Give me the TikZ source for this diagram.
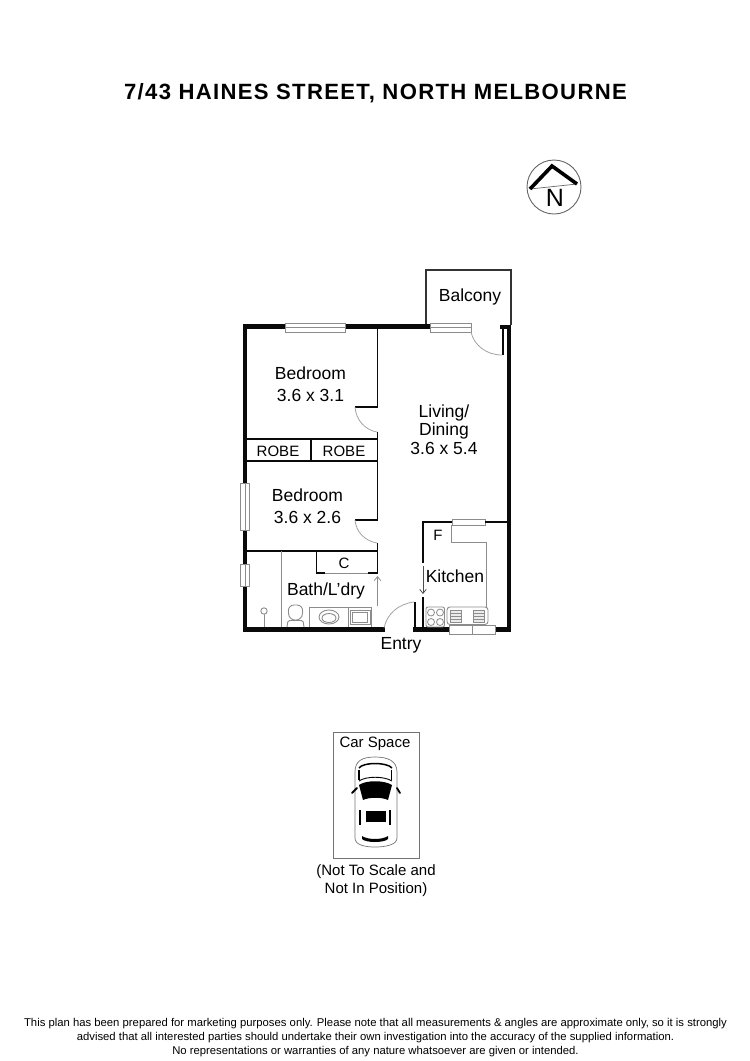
\documentclass[tikz,border=0pt]{standalone}
\usepackage{fontspec}
\setmainfont{Liberation Sans}
\newfontfamily\titlefont[LetterSpace=6.0]{Liberation Sans}
\usetikzlibrary{positioning,arrows.meta}
\definecolor{wallblack}{RGB}{10,10,10}
\definecolor{fixgray}{RGB}{140,140,140}

\tikzset{
    wall/.style={line width=4.5pt, color=wallblack, line cap=rect},
    thinwall/.style={line width=1.7pt, color=wallblack},
    fixture/.style={line width=0.9pt, color=fixgray},
    swing/.style={line width=0.8pt, color=fixgray!80},
    windowpane/.style={draw=fixgray, fill=white, line width=0.9pt},
    doorarrow/.style={-{Straight Barb[length=4pt,width=6.5pt]}, line width=0.8pt},
    roomlabel/.style={align=center, inner sep=0pt, text=black, font=\fontsize{17.5}{22}\selectfont},
    smalllabel/.style={align=center, inner sep=0pt, text=black, font=\fontsize{15}{18}\selectfont},
    footerlabel/.style={align=center, inner sep=0pt, text=black, font=\fontsize{11.3}{14}\selectfont},
}

\begin{document}
\begin{tikzpicture}[x=1pt,y=-1pt]
\useasboundingbox (0,0) rectangle (750,1061);

% title and north point
\node[inner sep=0pt, font=\titlefont\bfseries\fontsize{22.1}{26}\selectfont] (title) at (375.5,93) {7/43 HAINES STREET, NORTH MELBOURNE};
\draw[line width=0.9pt, color=black!60] (554,187) circle (27);
\draw[line width=0.7pt, color=black!60] (530,189) -- (577,184);
\draw[line width=3.6pt, color=black, miter limit=10] (530,189) -- (552,166) -- (577,184);
\node[inner sep=0pt, font=\fontsize{25}{28}\selectfont] (north) at (555,198) {N};

% balcony
\draw[line width=1.3pt, color=black!80] (426,325) -- (426,270) -- (511,270) -- (511,325);

% outer walls
\draw[wall] (285,326.5) -- (245,326.5) -- (245,629.5) -- (383,629.5);
\draw[wall] (345,326.5) -- (428,326.5);
\draw[wall] (502,327) -- (509,327) -- (509,629.5) -- (495,629.5);
\draw[wall] (449,629.5) -- (415,629.5);
\draw[line width=2.4pt, color=wallblack] (503,327) -- (503,355);
\draw[line width=2.4pt, color=wallblack] (415,602) -- (415,629);

% windows
\draw[windowpane] (285,323) rectangle (345,332);
\draw[fixture] (285,327.5) -- (345,327.5);
\draw[windowpane] (430,323) rectangle (471,332);
\draw[fixture] (430,327.5) -- (471,327.5);
\draw[windowpane] (240.5,483) rectangle (249.5,530);
\draw[fixture] (245,483) -- (245,530);
\draw[windowpane] (240.5,564) rectangle (249.5,586);
\draw[fixture] (245,564) -- (245,586);
\draw[windowpane] (449,625) rectangle (495,634);
\draw[fixture] (472,625) -- (472,634);
\draw[windowpane] (452,519.5) rectangle (485,525);

% inner walls
\draw[thinwall] (355,407) -- (377.5,407) -- (377.5,328);
\draw[thinwall] (247,439) -- (377.5,439);
\draw[thinwall] (247,461) -- (377.5,461);
\draw[thinwall] (377.5,432) -- (377.5,461);
\draw[thinwall] (311,439) -- (311,461);
\draw[thinwall] (355,520) -- (377.5,520) -- (377.5,461);
\draw[thinwall] (377.5,543) -- (377.5,573);
\draw[thinwall] (247,551) -- (377.5,551);
\draw[thinwall] (325,573) -- (316.5,573) -- (316.5,551);
\draw[thinwall] (368,573) -- (377.5,573);
\draw[fixture] (325,573) -- (368,573);
\draw[fixture] (281,551) -- (281,627);
\draw[thinwall] (423,563) -- (423,522) -- (452,522);
\draw[thinwall] (485,522) -- (507,522);
\draw[thinwall] (423,597) -- (423,628);

% door swings
\draw[swing] (471,332) .. controls (474,345) and (486,355) .. (502,355);
\draw[swing] (355,407) .. controls (356,420) and (365,430) .. (377,432);
\draw[swing] (355,520) .. controls (356,532) and (365,541) .. (377,543);
\draw[swing] (384,628) .. controls (387,614) and (398,604) .. (414,602);
\draw[doorarrow, color=fixgray] (377.5,606) -- (377.5,576);
\draw[doorarrow, color=black!70] (423,566) -- (423,594);

% bath fittings
\draw[fixture] (264,614) -- (264,627);
\draw[fixture, fill=white] (264,611) circle (3.2);
\draw[fixture, rounded corners=6pt] (289,620) -- (288,605) -- (303,605) -- (302,620) -- cycle;
\draw[fixture, rounded corners=1.5pt] (287,627) -- (288,620.5) -- (303,620.5) -- (304,627);
\draw[fixture] (309,627) -- (309,607) -- (371,607) -- (371,627);
\draw[fixture] (348,607) -- (348,627);
\draw[fixture] (329,617) ellipse (10 and 7);
\draw[fixture] (329,618) ellipse (7 and 4.5);
\draw[fixture] (350,610) rectangle (370,624);
\draw[fixture] (352.5,612) rectangle (367.5,622);

% kitchen fittings
\draw[fixture] (451,525) -- (451,542) -- (486,542) -- (486,607);
\draw[fixture, rounded corners=2pt] (426,607) rectangle (444.5,627);
\foreach \cx/\cy in {431/612.5,440/612.5,431/622,440/622}
    \draw[fixture, line width=0.8pt] (\cx,\cy) circle (3.5);
\draw[fixture, rounded corners=3pt] (447,607) rectangle (488,624.5);
\draw[fixture, fill=black!8] (450,610) rectangle (461,622);
\draw[fixture, fill=black!8] (473,610) rectangle (484,622);
\foreach \ky in {613,616,619}
    \draw[fixture, line width=0.6pt] (450,\ky) -- (461,\ky) (473,\ky) -- (484,\ky);

% room labels
\node[roomlabel] (bed1) at (310.5,384) {Bedroom\\3.6 x 3.1};
\node[roomlabel] (bed2) at (307.5,506.5) {Bedroom\\3.6 x 2.6};
\node[smalllabel] (robe1) at (278,451) {ROBE};
\node[smalllabel] (robe2) at (344,451) {ROBE};
\node[smalllabel] (cup) at (344,563) {C};
\node[roomlabel] (bath) at (326,591) {Bath/L'dry};
\node[roomlabel] (balcony) at (470,297) {Balcony};
\node[roomlabel, font=\fontsize{17.5}{18.5}\selectfont] (living) at (444,429.5) {Living/\\Dining\\3.6 x 5.4};
\node[smalllabel] (fridge) at (438,535) {F};
\node[roomlabel] (kitchen) at (455,576) {Kitchen};
\node[roomlabel] (entry) at (401,645) {Entry};

% car space
\draw[line width=0.9pt, color=black!55] (333,732) rectangle (419,858);
\node[smalllabel] (carspace) at (375,743.5) {Car Space};
\draw[line width=0.7pt, color=black!55] (375,757) .. controls (362,757) and (355,761) .. (355,772) -- (355,838) .. controls (355,845) and (365,847) .. (375,847) .. controls (385,847) and (397,845) .. (397,838) -- (397,772) .. controls (397,761) and (388,757) .. (375,757) -- cycle;
\draw[line width=1.5pt, black] (359,768) .. controls (363,762) and (387,762) .. (392,768);
\draw[line width=1.6pt, black] (359,770) -- (359,780) (391.5,770) -- (391.5,780);
\fill[black] (359,785) .. controls (366,780) and (384,780) .. (392,785) -- (388,800) .. controls (382,797) and (369,797) .. (363,800) -- cycle;
\draw[line width=0.9pt, black] (359,781) .. controls (366,776) and (384,776) .. (392,781);
\draw[line width=1.8pt, black, line cap=round] (352,793) -- (357,788) (397,788) -- (400,793);
\draw[line width=2pt, black] (360,810) -- (360,825) (389.5,810) -- (389.5,825);
\fill[black] (366,811) rectangle (386,822);
\fill[black] (362,836) .. controls (368,840) and (382,840) .. (388,836) -- (388,839) .. controls (384,843) and (366,843) .. (362,839) -- cycle;
\node[smalllabel] (carnote) at (376,880.5) {(Not To Scale and\\Not In Position)};

% footer
\node[footerlabel] (footer) at (375.5,1038) {This plan has been prepared for marketing purposes only. Please note that all measurements \& angles are approximate only, so it is strongly\\advised that all interested parties should undertake their own investigation into the accuracy of the supplied information.\\No representations or warranties of any nature whatsoever are given or intended.};
\end{tikzpicture}
\end{document}
